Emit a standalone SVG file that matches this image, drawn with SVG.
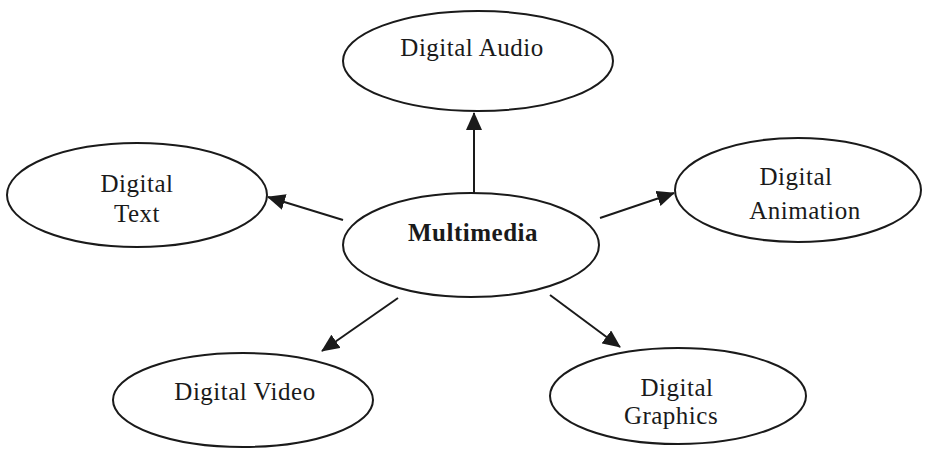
<svg xmlns="http://www.w3.org/2000/svg" width="925" height="457" viewBox="0 0 925 457">
  <style>
    .node { fill: #fff; stroke: #1a1a1a; stroke-width: 2; }
    .lbl { font-family: "Liberation Serif", "Times New Roman", serif; font-size: 25px; fill: #1a1a1a; text-anchor: middle; letter-spacing: 0.5px; }
    .bold { font-weight: bold; }
    .edge { stroke: #1a1a1a; stroke-width: 2; fill: none; marker-end: url(#head); }
  </style>
  <defs>
    <marker id="head" viewBox="0 0 18 16" refX="17" refY="8" markerWidth="18" markerHeight="16" markerUnits="userSpaceOnUse" orient="auto">
      <path d="M0,0 L18,8 L0,16 z" fill="#1a1a1a"/>
    </marker>
  </defs>
  <rect width="925" height="457" fill="#fff"/>

  <g id="connectors">
    <line class="edge" x1="474" y1="193" x2="474" y2="113"/>
    <line class="edge" x1="343" y1="220" x2="268" y2="197"/>
    <line class="edge" x1="600" y1="218" x2="674" y2="193"/>
    <line class="edge" x1="398" y1="298" x2="322" y2="351"/>
    <line class="edge" x1="550" y1="295" x2="620" y2="347"/>
  </g>

  <g id="multimedia">
    <ellipse class="node" cx="471" cy="245" rx="128" ry="52"/>
    <text class="lbl bold" x="473" y="241">Multimedia</text>
  </g>
  <g id="digital-audio">
    <ellipse class="node" cx="478" cy="61" rx="135" ry="50"/>
    <text class="lbl" x="472" y="56">Digital Audio</text>
  </g>
  <g id="digital-text">
    <ellipse class="node" cx="137" cy="195" rx="130" ry="52"/>
    <text class="lbl" x="137" y="192">Digital</text>
    <text class="lbl" x="137" y="222">Text</text>
  </g>
  <g id="digital-animation">
    <ellipse class="node" cx="798" cy="190" rx="123" ry="52"/>
    <text class="lbl" x="796" y="185">Digital</text>
    <text class="lbl" x="805" y="219">Animation</text>
  </g>
  <g id="digital-video">
    <ellipse class="node" cx="243" cy="400" rx="130" ry="47"/>
    <text class="lbl" x="245" y="400">Digital Video</text>
  </g>
  <g id="digital-graphics">
    <ellipse class="node" cx="678" cy="396" rx="128" ry="48"/>
    <text class="lbl" x="677" y="396">Digital</text>
    <text class="lbl" x="671" y="424">Graphics</text>
  </g>
</svg>
